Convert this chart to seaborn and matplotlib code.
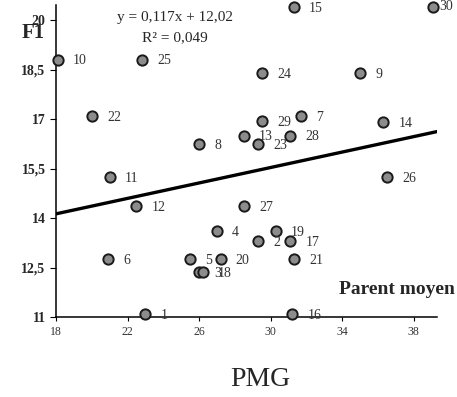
import matplotlib
matplotlib.use("Agg")
import matplotlib.pyplot as plt
import seaborn as sns
import pandas as pd
import numpy as np

# Offspring trait F1 against mid-parent value (PMG)
ids = list(range(1, 31))
parent_moyen = [23.0, 29.3, 26.0, 27.0, 25.5, 20.9, 31.7, 26.0, 35.0, 18.1,
                21.0, 22.5, 28.5, 36.3, 31.3, 31.2, 31.1, 26.2, 30.3, 27.2,
                31.3, 20.0, 29.3, 29.5, 22.8, 36.5, 28.5, 31.1, 29.5, 39.1]
f1 = [11.1, 13.3, 12.35, 13.6, 12.75, 12.75, 17.1, 16.25, 18.4, 18.8,
      15.25, 14.35, 16.5, 16.9, 20.4, 11.1, 13.3, 12.35, 13.6, 12.75,
      12.75, 17.1, 16.25, 18.4, 18.8, 15.25, 14.35, 16.5, 16.95, 20.4]

slope, intercept = 0.117, 12.02
x_ticks = [18, 22, 26, 30, 34, 38]
y_ticks = [11, 12.5, 14, 15.5, 17, 18.5, 20]
y_tick_labels = ["11", "12,5", "14", "15,5", "17", "18,5", "20"]

df = pd.DataFrame({"id": ids, "pm": parent_moyen, "f1": f1})

sns.set_style("white")
plt.rcParams["font.family"] = ["Liberation Serif", "DejaVu Serif"]

fig = plt.figure(figsize=(4.57, 3.97), dpi=100)
ax = fig.add_axes([0.1225, 0.2015, 0.956 - 0.1225, 0.987 - 0.2015])

xlim = (18, 39.3)
ax.set_xlim(*xlim)
ax.set_ylim(11, 20.45)

# trend line from the fitted equation
xs = np.array(xlim)
sns.lineplot(x=xs, y=slope * xs + intercept, ax=ax, color="black", lw=2.4, zorder=2)

sns.scatterplot(data=df, x="pm", y="f1", ax=ax, s=55, color="#8c8c8c",
                edgecolor="#1a1a1a", linewidth=1.4, zorder=3, clip_on=False)

label_offsets = {30: (4, 0)}
for i, x, y in zip(ids, parent_moyen, f1):
    off = label_offsets.get(i, (11, -1))
    ax.annotate(str(i), (x, y), xytext=off, textcoords="offset points",
                ha="left", va="center", fontsize=10, color="#333333",
                annotation_clip=False)

for side in ("top", "right"):
    ax.spines[side].set_visible(False)
for side in ("left", "bottom"):
    ax.spines[side].set_color("black")
    ax.spines[side].set_linewidth(1.1)

ax.set_xticks(x_ticks)
ax.set_yticks(y_ticks)
ax.set_yticklabels(y_tick_labels, fontweight="bold", fontsize=10)
ax.tick_params(axis="x", labelsize=8.5, labelcolor="#333333", direction="out",
               length=3, width=0.8, color="black", bottom=True)
ax.tick_params(axis="y", direction="out", length=4, width=0.8, color="black",
               left=True)
ax.set_xlabel("")
ax.set_ylabel("")

fig.text(0.383, 0.955, "y = 0,117x + 12,02", ha="center", va="center", fontsize=11)
fig.text(0.383, 0.904, "R² = 0,049", ha="center", va="center", fontsize=11)
fig.text(0.072, 0.917, "F1", ha="center", va="center", fontsize=15, fontweight="bold")
fig.text(0.869, 0.270, "Parent moyen", ha="center", va="center", fontsize=14,
         fontweight="bold")
fig.text(0.569, 0.045, "PMG", ha="center", va="center", fontsize=20)

fig.savefig("out.png", dpi=100)
